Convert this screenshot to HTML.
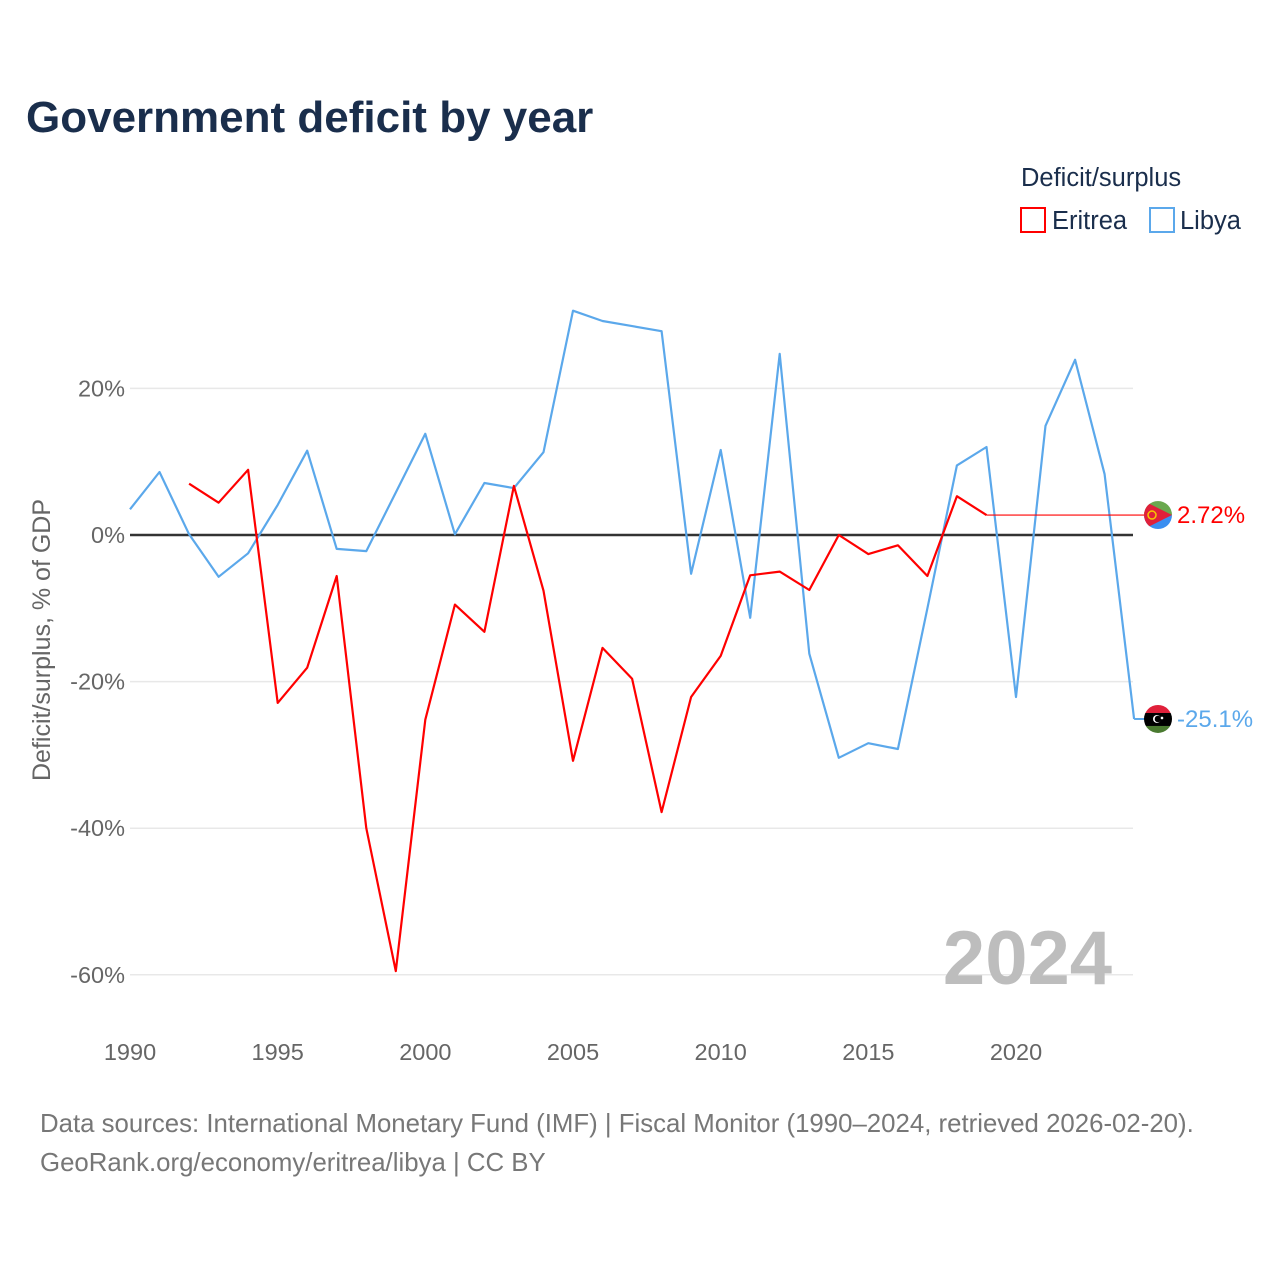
<!DOCTYPE html>
<html><head><meta charset="utf-8"><style>
body{margin:0;background:#fff;width:1280px;height:1280px;overflow:hidden;font-family:"Liberation Sans",sans-serif}
</style></head><body>
<svg width="1280" height="1280" xmlns="http://www.w3.org/2000/svg">
<text x="26" y="132" font-size="44" font-weight="bold" fill="#1a2e4c">Government deficit by year</text>
<text x="1021" y="186" font-size="25.5" fill="#1a2e4c">Deficit/surplus</text>
<g><rect x="1021" y="208" width="24" height="24" fill="none" stroke="#ff0000" stroke-width="2"/><text x="1052" y="229" font-size="25.5" fill="#1a2e4c">Eritrea</text></g>
<g><rect x="1150" y="208" width="24" height="24" fill="none" stroke="#5ba8eb" stroke-width="2"/><text x="1180" y="229" font-size="25.5" fill="#1a2e4c">Libya</text></g>
<g id="grid"></g>
<text x="1112" y="984" font-size="76" font-weight="bold" fill="#bdbdbd" text-anchor="end">2024</text>
<text transform="translate(50,640) rotate(-90)" font-size="25" fill="#666" text-anchor="middle">Deficit/surplus, % of GDP</text>
<g id="series"></g>
<text x="40" y="1132" font-size="25.8" fill="#777">Data sources: International Monetary Fund (IMF) | Fiscal Monitor (1990–2024, retrieved 2026-02-20).</text>
<text x="40" y="1171" font-size="25.8" fill="#777">GeoRank.org/economy/eritrea/libya | CC BY</text>
</svg>
<script>
const years=[];for(let y=1990;y<=2024;y++)years.push(y);
const yTicks=[20,0,-20,-40,-60];
const xTicks=[1990,1995,2000,2005,2010,2015,2020];
const libya=[3.5,8.6,0.1,-5.7,-2.5,4.1,11.5,-1.9,-2.2,5.8,13.8,0.1,7.1,6.4,11.3,30.6,29.2,28.5,27.8,-5.3,11.6,-11.3,24.7,-16.2,-30.4,-28.4,-29.2,-10,9.5,12.0,-22.1,14.9,23.9,8.3,-25.1];
const eritrea=[null,null,7.0,4.4,8.9,-22.9,-18.1,-5.6,-40,-59.5,-25.2,-9.5,-13.2,6.7,-7.6,-30.8,-15.4,-19.6,-37.8,-22.1,-16.5,-5.5,-5.0,-7.5,0,-2.6,-1.4,-5.6,5.3,2.72,null,null,null,null,null];
const NS="http://www.w3.org/2000/svg";
const X=y=>130+(y-1990)*886/30;
const Y=v=>535-v*7.33;
function mk(t,a,p){const e=document.createElementNS(NS,t);for(const k in a)e.setAttribute(k,a[k]);p.appendChild(e);return e;}
const g=document.getElementById('grid'),s=document.getElementById('series');
yTicks.forEach(v=>{
 const l=mk('line',{x1:130,x2:1133,y1:Y(v),y2:Y(v),stroke:v===0?'#333':'#e8e8e8','stroke-width':v===0?2.5:1.5},g);
 
 
 const t=mk('text',{x:125,y:Y(v)+8,'font-size':23.5,fill:'#666','text-anchor':'end'},g);t.textContent=v+'%';
 
 
});
xTicks.forEach(v=>{const t=mk('text',{x:X(v),y:1060,'font-size':23.5,fill:'#666','text-anchor':'middle'},g);t.textContent=v;
 
 });
function path(arr,col,name){let d='',last=null;arr.forEach((v,i)=>{if(v==null)return;d+=(d?'L':'M')+X(years[i]).toFixed(1)+','+Y(v).toFixed(1);last=i;});
 const p=mk('path',{d:d,fill:'none',stroke:col,'stroke-width':2.2,'stroke-linejoin':'round'},s);
 
 
 return arr[last];}
const lv=path(libya,'#5ba8eb','libya-line');
const ev=path(eritrea,'#ff0000','eritrea-line');
let el=null;eritrea.forEach((v,i)=>{if(v!=null)el=i;});
const ext=mk('line',{x1:X(years[el]),x2:1146,y1:Y(ev),y2:Y(ev),stroke:'#ff0000','stroke-width':1.2},s);


const lext=mk('line',{x1:X(2024),x2:1146,y1:Y(lv),y2:Y(lv),stroke:'#5ba8eb','stroke-width':2},s);


function flagE(cy){const gg=mk('g',{},s);
 const cx=1158,r=14;const cp=mk('clipPath',{id:'ce'},gg);mk('circle',{cx:cx,cy:cy,r:r},cp);
 const c=mk('g',{'clip-path':'url(#ce)'},gg);
 mk('rect',{x:cx-r,y:cy-r,width:2*r,height:r,fill:'#6aa84f'},c);mk('rect',{x:cx-r,y:cy,width:2*r,height:r,fill:'#3a8ef0'},c);
 mk('polygon',{points:`${cx-r},${cy-r} ${cx+r},${cy} ${cx-r},${cy+r}`,fill:'#e0203a'},c);
 mk('circle',{cx:cx-6,cy:cy,r:4,fill:'none',stroke:'#f7c800','stroke-width':1.5},c);}
function flagL(cy){const gg=mk('g',{},s);
 const cx=1158,r=14;const cp=mk('clipPath',{id:'cl'},gg);mk('circle',{cx:cx,cy:cy,r:r},cp);
 const c=mk('g',{'clip-path':'url(#cl)'},gg);
 mk('rect',{x:cx-r,y:cy-r,width:2*r,height:8,fill:'#e0203a'},c);mk('rect',{x:cx-r,y:cy-6,width:2*r,height:13,fill:'#000'},c);mk('rect',{x:cx-r,y:cy+7,width:2*r,height:8,fill:'#4a7a30'},c);
 mk('circle',{cx:cx-1,cy:cy,r:4,fill:'#fff'},c);mk('circle',{cx:cx,cy:cy,r:3.3,fill:'#000'},c);mk('circle',{cx:cx+4,cy:cy-1,r:1.3,fill:'#fff'},c);}
flagE(Y(ev));flagL(Y(lv));
const te=mk('text',{x:1177,y:Y(ev)+8,'font-size':24,fill:'#ff0000'},s);te.textContent=ev+'%';


const tl=mk('text',{x:1177,y:Y(lv)+8,'font-size':24,fill:'#5ba8eb'},s);tl.textContent=lv+'%';


</script>
</body></html>
